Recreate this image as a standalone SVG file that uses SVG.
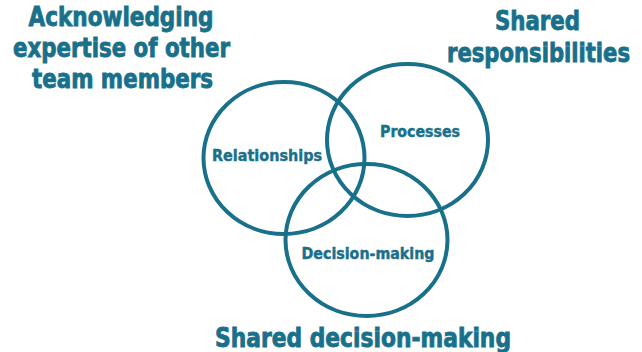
<svg xmlns="http://www.w3.org/2000/svg" width="642" height="352" viewBox="0 0 642 352">
<style>
.ring{fill:none;stroke:#19708a;stroke-width:4}
.t{font-family:"DejaVu Sans Condensed","DejaVu Sans","Liberation Sans",sans-serif;font-stretch:condensed;font-weight:bold;fill:#19708a;stroke:#19708a;text-anchor:middle}
.big{font-size:26px;stroke-width:0.8}
.small{font-size:15.5px;stroke-width:0.4}
</style>
<rect width="642" height="352" fill="#ffffff"/>
<g id="circle-relationships">
<ellipse class="ring" cx="284" cy="158" rx="80.5" ry="76"/>
<text class="t small" x="267" y="161" textLength="110" lengthAdjust="spacingAndGlyphs">Relationships</text>
</g>
<g id="circle-processes">
<ellipse class="ring" cx="407.5" cy="140" rx="80.5" ry="76"/>
<text class="t small" x="420" y="137" textLength="80" lengthAdjust="spacingAndGlyphs">Processes</text>
</g>
<g id="circle-decision">
<ellipse class="ring" cx="366.5" cy="240" rx="81" ry="76"/>
<text class="t small" x="368" y="259" textLength="133" lengthAdjust="spacingAndGlyphs">Decision-making</text>
</g>
<g id="label-acknowledging">
<text class="t big" x="121" y="26" textLength="185" lengthAdjust="spacingAndGlyphs">Acknowledging</text>
<text class="t big" x="121.5" y="57" textLength="217" lengthAdjust="spacingAndGlyphs">expertise of other</text>
<text class="t big" x="122.5" y="88" textLength="181" lengthAdjust="spacingAndGlyphs">team members</text>
</g>
<g id="label-shared-responsibilities">
<text class="t big" x="537.5" y="30" textLength="85" lengthAdjust="spacingAndGlyphs">Shared</text>
<text class="t big" x="538.5" y="62" textLength="183" lengthAdjust="spacingAndGlyphs">responsibilities</text>
</g>
<g id="label-shared-decision">
<text class="t big" x="363" y="347" textLength="296" lengthAdjust="spacingAndGlyphs">Shared decision-making</text>
</g>
<g id="connectors"></g>
</svg>
